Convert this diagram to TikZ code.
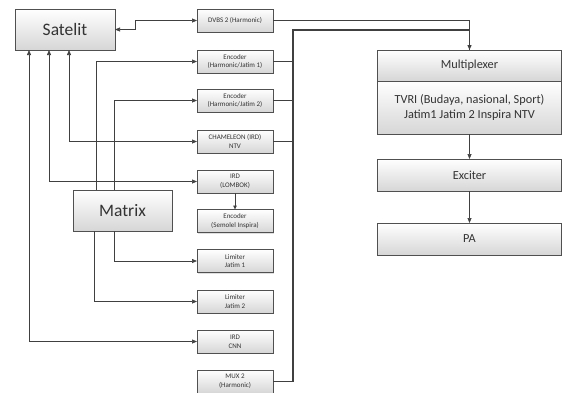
\documentclass[tikz,border=0pt]{standalone}
\usepackage{fontspec}
\setmainfont{Carlito}
\usetikzlibrary{arrows.meta,shadows}
\definecolor{ln}{HTML}{404040}
\definecolor{bd}{HTML}{505050}
\tikzset{
  box/.style={draw=bd, line width=0.6pt, rectangle, top color=white, bottom color=black!16,
    drop shadow={opacity=0.25, shadow xshift=1.2pt, shadow yshift=-1.2pt},
    align=center, inner sep=0pt, outer sep=0pt, text=black!80},
  small/.style={box, minimum width=76pt, minimum height=23pt, font=\fontsize{7}{8.6}\selectfont},
  big/.style={box, font=\fontsize{17.5}{20}\selectfont},
  mid/.style={box, minimum width=184pt, font=\fontsize{12.3}{14.5}\selectfont},
  conn/.style={draw=ln, line width=0.7pt},
  tip/.style={-{Triangle[length=5pt,width=4pt]}},
  tips/.style={{Triangle[length=5pt,width=4pt]}-{Triangle[length=5pt,width=4pt]}},
  bus/.style={draw=ln, line width=1.3pt}
}
\begin{document}
\begin{tikzpicture}[x=1pt,y=-1pt]
\useasboundingbox (0,0) rectangle (562,392);
\node[big, minimum width=100pt, minimum height=41pt] (sat) at (65,29.5) {Satelit};
\node[big, minimum width=99pt, minimum height=41pt] (matrix) at (122.5,210.5) {Matrix};
\node[small] (dvbs) at (235,20.5) {DVBS 2 (Harmonic)};
\node[small] (enc1) at (235,61.5) {Encoder\\(Harmonic/Jatim 1)};
\node[small] (enc2) at (235,100.5) {Encoder\\(Harmonic/Jatim 2)};
\node[small] (cham) at (235,141.5) {CHAMELEON (IRD)\\NTV};
\node[small] (lomb) at (235,181.5) {IRD\\(LOMBOK)};
\node[small] (semo) at (235,221) {Encoder\\(Semolel Inspira)};
\node[small] (lim1) at (235,261) {Limiter\\Jatim 1};
\node[small] (lim2) at (235,301.5) {Limiter\\Jatim 2};
\node[small] (cnn) at (235,341.5) {IRD\\CNN};
\node[small] (mux2) at (235,381.5) {MUX 2\\(Harmonic)};
\node[mid, minimum height=31pt] (mpxa) at (469.5,65.5) {Multiplexer};
\node[mid, minimum height=53pt] (mpxb) at (469.5,107.5) {TVRI (Budaya, nasional, Sport)\\Jatim1 Jatim 2 Inspira NTV};
\node[mid, minimum height=32pt] (exc) at (469.5,175) {Exciter};
\node[mid, minimum height=32pt] (pa) at (469.5,239) {PA};
\coordinate (bt) at (293,30);
% satelit links
\draw[conn,tips] (sat.east) -- ++(20,0) |- (dvbs.west);
\draw[conn,tips] ([xshift=-36pt]sat.south) |- (cnn.west);
\draw[conn,tips] ([xshift=-16pt]sat.south) |- (lomb.west);
\draw[conn,tips] ([xshift=4pt]sat.south) |- (cham.west);
% matrix links
\draw[conn,tip] ([xshift=-26.5pt]matrix.north) |- (enc1.west);
\draw[conn,tip] ([xshift=-8.5pt]matrix.north) |- (enc2.west);
\draw[conn,tip] ([xshift=-8.5pt]matrix.south) |- (lim1.west);
\draw[conn,tip] ([xshift=-28.5pt]matrix.south) |- (lim2.west);
\draw[conn,-{Triangle[length=4pt,width=3.5pt]}] (lomb) -- (semo);
% bus
\draw[conn] (dvbs.east) -| (mpxa.north);
\draw[bus,tip] (mux2.east) -| (bt) -| (mpxa.north);
\draw[conn] (enc1.east) -- (enc1.east -| bt);
\draw[conn] (enc2.east) -- (enc2.east -| bt);
\draw[conn] (cham.east) -- (cham.east -| bt);
\draw[conn,tip] (mpxb) -- (exc);
\draw[conn,tip] (exc) -- (pa);
\end{tikzpicture}
\end{document}
